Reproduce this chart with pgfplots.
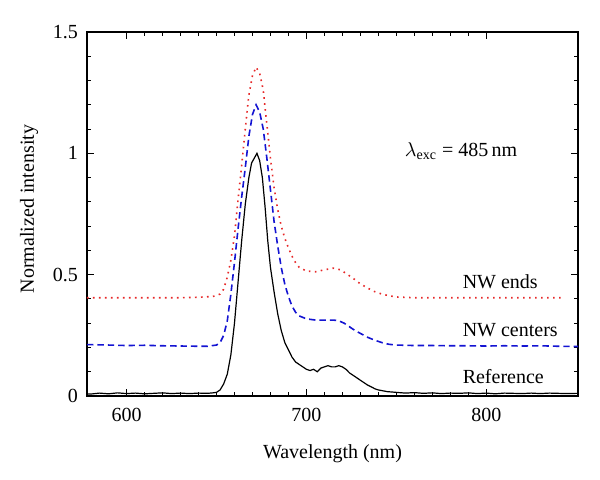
\documentclass[border=0pt]{standalone}
\usepackage{pgfplots}
\pgfplotsset{compat=1.18}
\usepackage{fontspec}
\setmainfont{Liberation Serif}
\definecolor{myblue}{RGB}{20,20,210}
\definecolor{myred}{RGB}{230,40,40}
\begin{document}
\begin{tikzpicture}
\path[use as bounding box] (-43.5pt,-41.5pt) rectangle (256.5pt,198pt);
\begin{axis}[
  scale only axis, width=245.5pt, height=182pt,
  xmin=578, xmax=851, ymin=0, ymax=1.5,
  xtick={600,700,800}, ytick={0,0.5,1,1.5},
  yticklabels={0,0.5,1,1.5},
  minor x tick num=9, minor y tick num=4,
  tick align=inside,
  major tick length=3.5pt, minor tick length=2pt,
  tick style={black, line width=0.5pt},
  axis line style={line width=0.6pt},
  /pgf/number format/assume math mode=true,
  tick label style={font=\fontsize{10}{12}\selectfont},
  xticklabel style={yshift=-2.5pt},
  yticklabel style={xshift=-1pt},
  label style={font=\fontsize{10}{12}\selectfont},
  xlabel={Wavelength (nm)},
  ylabel={Normalized intensity},
  xlabel style={yshift=-4.5pt},
  ylabel style={yshift=0.5pt, xshift=2.5pt},
]
\addplot[black, line width=0.6pt] coordinates {
(578,0.009) (580,0.008) (585,0.012) (590,0.009) (595,0.013) (600,0.010) (605,0.012) (610,0.009) (615,0.011) (620,0.013) (625,0.010) (630,0.012) (635,0.010) (640,0.012) (645,0.011) (648,0.013) (650,0.015) (652,0.025) (654,0.05) (656,0.09) (658,0.17) (660,0.30) (662,0.47) (664,0.64) (666,0.79) (668,0.90) (669.5,0.96) (671,0.98) (672.5,1.0) (674,0.97) (675.5,0.90) (677,0.78) (678.5,0.64) (680,0.53) (682,0.43) (684,0.34) (686,0.27) (688,0.22) (690,0.19) (692,0.16) (694,0.14) (696,0.13) (698,0.12) (700,0.11) (702,0.105) (704,0.11) (706,0.10) (708,0.115) (710,0.12) (712,0.125) (714,0.12) (716,0.12) (718,0.125) (720,0.12) (722,0.11) (724,0.095) (726,0.085) (728,0.075) (730,0.065) (732,0.055) (734,0.045) (736,0.038) (738,0.03) (740,0.025) (745,0.018) (750,0.015) (755,0.012) (760,0.014) (765,0.011) (770,0.013) (775,0.010) (780,0.012) (785,0.011) (790,0.013) (795,0.010) (800,0.012) (805,0.009) (810,0.012) (815,0.011) (820,0.010) (825,0.012) (830,0.010) (835,0.012) (840,0.011) (845,0.010) (851,0.011)
};
\addplot[myblue, line width=0.8pt, dash pattern=on 3.2pt off 2pt] coordinates {
(578,0.212) (590,0.210) (600,0.208) (610,0.209) (620,0.207) (630,0.206) (640,0.205) (645,0.205) (650,0.21) (652,0.22) (654,0.25) (656,0.31) (658,0.42) (660,0.55) (662,0.69) (664,0.82) (666,0.94) (668,1.07) (670,1.16) (672,1.20) (674,1.17) (676,1.10) (678,0.98) (680,0.85) (682,0.72) (684,0.62) (686,0.53) (688,0.46) (690,0.41) (692,0.37) (694,0.345) (696,0.33) (700,0.318) (705,0.313) (710,0.313) (715,0.313) (718,0.31) (721,0.30) (724,0.285) (727,0.27) (730,0.258) (734,0.242) (738,0.23) (742,0.22) (746,0.213) (750,0.21) (760,0.208) (770,0.208) (780,0.207) (790,0.207) (800,0.206) (810,0.207) (820,0.206) (830,0.207) (840,0.205) (851,0.204)
};
\addplot[myred, line width=0.8pt, dash pattern=on 0.8pt off 2.2pt] coordinates {
(578,0.405) (590,0.405) (600,0.405) (610,0.405) (620,0.405) (630,0.405) (640,0.407) (648,0.41) (652,0.42) (654,0.44) (656,0.49) (658,0.56) (660,0.66) (662,0.81) (664,0.95) (666,1.10) (668,1.24) (670,1.32) (672,1.355) (674,1.33) (676,1.26) (678,1.12) (680,0.98) (682,0.86) (684,0.77) (686,0.70) (688,0.65) (690,0.61) (693,0.56) (696,0.53) (700,0.515) (705,0.512) (710,0.52) (715,0.527) (719,0.52) (722,0.505) (726,0.485) (730,0.462) (734,0.445) (738,0.43) (742,0.42) (746,0.413) (750,0.408) (760,0.405) (780,0.405) (800,0.405) (820,0.405) (843,0.405)
};
\node[anchor=center, font=\fontsize{10}{12}\selectfont] at (axis cs:786,1.01) {$\lambda_{\mathrm{exc}}$ = 485\,nm};
\node[anchor=west, font=\fontsize{10}{12}\selectfont] at (axis cs:783,0.47) {NW ends};
\node[anchor=west, font=\fontsize{10}{12}\selectfont] at (axis cs:783,0.27) {NW centers};
\node[anchor=west, font=\fontsize{10}{12}\selectfont] at (axis cs:783,0.08) {Reference};
\end{axis}
\end{tikzpicture}
\end{document}
